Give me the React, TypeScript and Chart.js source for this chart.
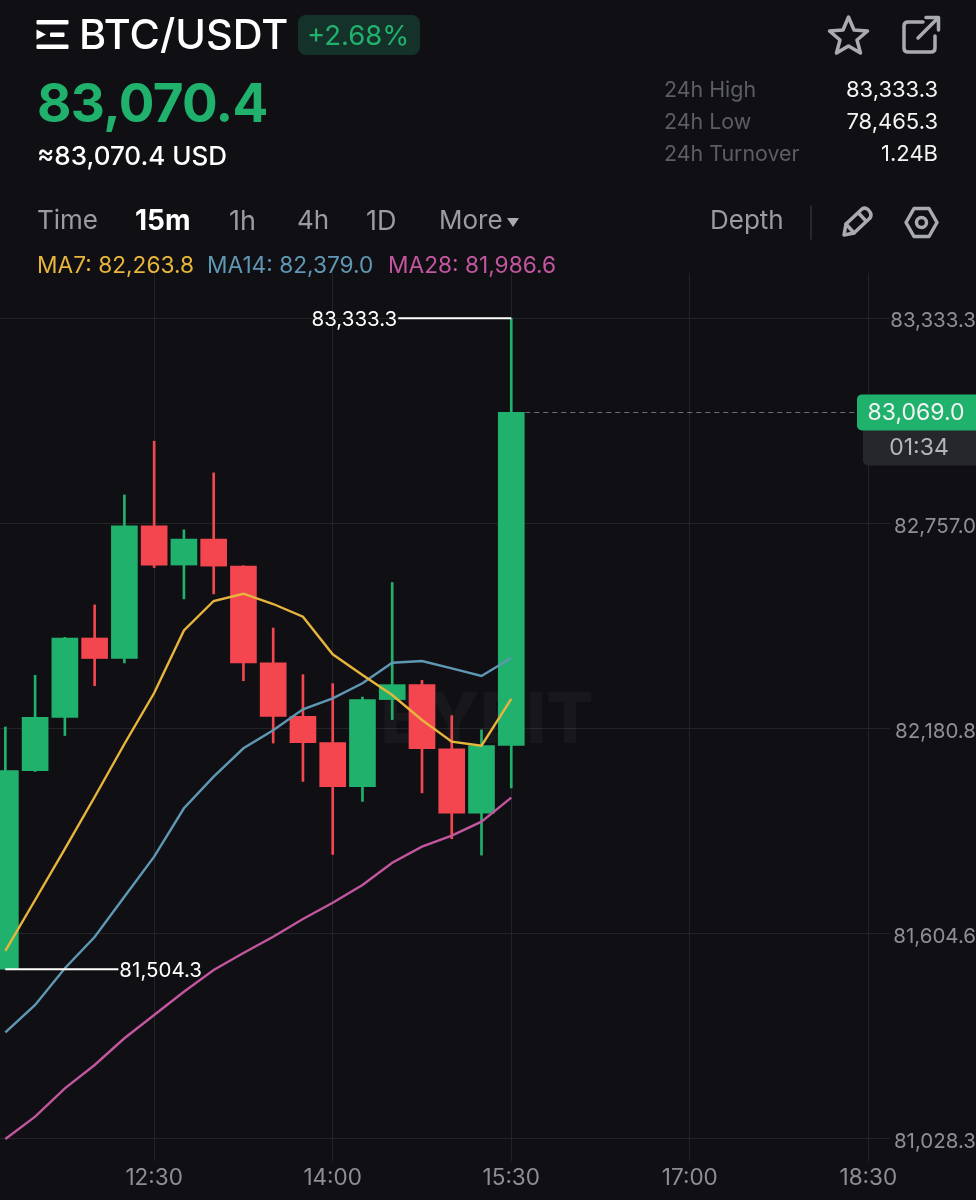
import React, { useRef, useEffect } from "react";
import { Chart, registerables } from "chart.js";

Chart.register(...registerables);

const times = [
	"11:15", "11:30", "11:45", "12:00", "12:15", "12:30", "12:45", "13:00", "13:15",
	"13:30", "13:45", "14:00", "14:15", "14:30", "14:45", "15:00", "15:15", "15:30",
];
const opens = [
	81504.3, 82062.5, 82212, 82435, 82377.5, 82750, 82640, 82713, 82637,
	82365, 82215, 82141, 82017, 82262, 82304, 82124, 81943, 82133,
];
const closes = [
	82062.5, 82212, 82435, 82377.5, 82750, 82640, 82713, 82637, 82365,
	82215, 82141, 82017, 82262, 82304, 82124, 81943, 82133, 83069,
];
const highs = [
	82185, 82330, 82437, 82528, 82837, 82988, 82739, 82899, 82638,
	82463, 82332, 82307, 82269, 82591, 82316, 82217, 82177, 83333.3,
];
const lows = [
	81504.3, 82060, 82161, 82301, 82365, 82633, 82545, 82559, 82315,
	82140, 82032, 81827, 81976, 82206, 82000, 81871, 81825, 82014,
];
const ma7 = [
	81555.7, 81698.9, 81842.3, 81988.3, 82137.3, 82280.5, 82456.1, 82539, 82559.5,
	82530.6, 82494.9, 82389.3, 82331.1, 82274.9, 82204.7, 82143.7, 82132.5, 82263.8,
];
const ma14 = [
	81327.2, 81403.9, 81507.1, 81595, 81708.2, 81820.6, 81956.6, 82045.4, 82125.2,
	82175.7, 82234.7, 82265.7, 82307.8, 82365.7, 82370.4, 82349.9, 82328.3, 82379,
];
const ma28 = [
	81027.5, 81090.1, 81169.9, 81235.4, 81310.4, 81375.8, 81441.3, 81502.3, 81550,
	81595.8, 81645.6, 81691.3, 81741.1, 81803.7, 81848.7, 81879.6, 81918.9, 81986.6,
];
const priceTicks = [83333.3, 82757.0, 82180.8, 81604.6, 81028.3];
const timeTicks = ["12:30", "14:00", "15:30", "17:00", "18:30"];
const highMark = 83333.3;
const lowMark = 81504.3;
const lastPrice = 83069.0;
const countdown = "01:34";

const UP = "#20b26c";
const DOWN = "#f4464f";
const BG = "#101014";
const GRID = "#232428";
const FONT = "Inter, sans-serif";

const toMinutes = (t: string) => {
	const [h, m] = t.split(":").map(Number);
	return h * 60 + m;
};
const toTime = (v: number) =>
	`${Math.floor(v / 60)}:${String(v % 60).padStart(2, "0")}`;
const fmt = (v: number) =>
	v.toLocaleString("en-US", { minimumFractionDigits: 1, maximumFractionDigits: 1 });

// watermark sits behind the candles
const watermark = {
	id: "watermark",
	beforeDatasetsDraw(chart: any) {
		const { ctx } = chart;
		ctx.save();
		ctx.font = `800 70px ${FONT}`;
		ctx.fillStyle = "rgba(255,255,255,0.035)";
		ctx.textAlign = "center";
		ctx.textBaseline = "middle";
		ctx.fillText("BYBIT", 487, 722);
		ctx.restore();
	},
};

// high / low markers and the last price tag
const markers = {
	id: "markers",
	afterDatasetsDraw(chart: any) {
		const { ctx, scales } = chart;
		const xs = scales.x;
		const ys = scales.y;
		const lastX = xs.getPixelForValue(toMinutes(times[times.length - 1]));
		const firstX = xs.getPixelForValue(toMinutes(times[0]));
		const yHigh = ys.getPixelForValue(highMark);
		const yLow = ys.getPixelForValue(lowMark);
		const yLast = ys.getPixelForValue(lastPrice);

		ctx.save();
		ctx.strokeStyle = "#ffffff";
		ctx.lineWidth = 2;
		ctx.beginPath();
		ctx.moveTo(lastX, yHigh);
		ctx.lineTo(lastX - 113, yHigh);
		ctx.moveTo(firstX, yLow);
		ctx.lineTo(firstX + 113, yLow);
		ctx.stroke();

		ctx.fillStyle = "#ffffff";
		ctx.font = `400 20.5px ${FONT}`;
		ctx.textBaseline = "middle";
		ctx.textAlign = "right";
		ctx.fillText(fmt(highMark), lastX - 114, yHigh + 2);
		ctx.textAlign = "left";
		ctx.fillText(fmt(lowMark), firstX + 114, yLow + 2);

		ctx.strokeStyle = "#6c6e73";
		ctx.lineWidth = 1;
		ctx.setLineDash([5, 4]);
		ctx.beginPath();
		ctx.moveTo(lastX + 14, Math.round(yLast) + 0.5);
		ctx.lineTo(857, Math.round(yLast) + 0.5);
		ctx.stroke();
		ctx.setLineDash([]);

		ctx.fillStyle = "#25272c";
		ctx.beginPath();
		ctx.roundRect(863, yLast + 10, 120, 43, 5);
		ctx.fill();
		ctx.fillStyle = UP;
		ctx.beginPath();
		ctx.roundRect(857, yLast - 18, 125, 36, 5);
		ctx.fill();

		ctx.fillStyle = "#f2f4f3";
		ctx.font = `400 23px ${FONT}`;
		ctx.textAlign = "center";
		ctx.fillText(fmt(lastPrice), 916, yLast + 1);
		ctx.fillStyle = "#b4b6ba";
		ctx.fillText(countdown, 919, yLast + 36);
		ctx.restore();
	},
};

const Candles: React.FC = () => {
	const chartRef = useRef<HTMLCanvasElement | null>(null);
	const chartInstance = useRef<Chart | null>(null);

	useEffect(() => {
		if (!chartRef.current) return;
		const ctx = chartRef.current.getContext("2d");
		const xs = times.map(toMinutes);
		const colors = closes.map((c, i) => (c >= opens[i] ? UP : DOWN));
		const line = (label: string, values: number[], color: string) => ({
			type: "line",
			label,
			data: values.map((y, i) => ({ x: xs[i], y })),
			borderColor: color,
			borderWidth: 2.4,
			pointRadius: 0,
			tension: 0,
			order: 0,
		});

		chartInstance.current = new Chart(ctx, {
			type: "bar",
			data: {
				datasets: [
					line("MA7", ma7, "#e8b53c"),
					line("MA14", ma14, "#5f98b4"),
					line("MA28", ma28, "#c2569f"),
					{
						label: "Body",
						data: opens.map((o, i) => ({
							x: xs[i],
							y: [Math.min(o, closes[i]), Math.max(o, closes[i])],
						})),
						backgroundColor: colors,
						barThickness: 26,
						grouped: false,
						order: 1,
					},
					{
						label: "Wick",
						data: highs.map((h, i) => ({ x: xs[i], y: [lows[i], h] })),
						backgroundColor: colors,
						barThickness: 2,
						grouped: false,
						order: 2,
					},
				],
			} as any,
			options: {
				responsive: false,
				animation: false,
				layout: { padding: { top: 273, left: 0, right: 0, bottom: 0 } },
				plugins: {
					legend: { display: false },
					tooltip: { enabled: false },
				},
				events: [],
				scales: {
					x: {
						type: "linear",
						offset: false,
						min: 672.3,
						max: 1120.9,
						grid: { offset: false, color: GRID, drawTicks: false },
						border: { display: false },
						afterBuildTicks: (scale: any) => {
							scale.ticks = timeTicks.map((t) => ({ value: toMinutes(t) }));
						},
						afterFit: (scale: any) => {
							scale.height = 39;
						},
						ticks: {
							autoSkip: false,
							maxRotation: 0,
							padding: 4,
							color: "#8d8f93",
							font: { family: "Inter", size: 22.5 },
							callback: (v: any) => toTime(Number(v)),
						},
					},
					y: {
						type: "linear",
						position: "right",
						min: 80965.6,
						max: 83460.6,
						grid: { color: GRID, drawTicks: false },
						border: { display: false },
						afterBuildTicks: (scale: any) => {
							scale.ticks = priceTicks.map((value) => ({ value }));
						},
						afterFit: (scale: any) => {
							scale.width = 86;
						},
						ticks: {
							autoSkip: false,
							padding: 0,
							crossAlign: "far",
							labelOffset: 3,
							color: "#8d8f93",
							font: { family: "Inter", size: 20.5 },
							callback: (v: any) => fmt(Number(v)),
						},
					},
				},
			} as any,
			plugins: [watermark, markers],
		} as any);

		return () => {
			if (chartInstance.current) {
				chartInstance.current.destroy();
				chartInstance.current = null;
			}
		};
	}, []);

	return (
		<canvas
			ref={chartRef}
			width="976"
			height="1200"
			style={{ position: "absolute", left: 0, top: 0, width: 976, height: 1200 }}
		></canvas>
	);
};

const Text: React.FC<any> = ({ x, right, cy, size, color, weight, spacing, children }) => (
	<span
		style={{
			position: "absolute",
			left: x,
			right: right,
			top: cy,
			transform: "translateY(-50%)",
			fontFamily: FONT,
			fontSize: size,
			lineHeight: 1,
			fontWeight: weight || 400,
			letterSpacing: spacing || 0,
			color: color,
			whiteSpace: "nowrap",
		}}
	>
		{children}
	</span>
);

const Icons: React.FC = () => (
	<svg
		width="976"
		height="290"
		style={{ position: "absolute", left: 0, top: 0 }}
		fill="none"
		stroke="#a9abaf"
		strokeWidth="3.5"
		strokeLinejoin="round"
		strokeLinecap="round"
	>
		{/* menu logo */}
		<g fill="#ffffff" stroke="none">
			<rect x="36.5" y="20" width="32" height="4.5" rx="1" />
			<rect x="36.5" y="44.5" width="32" height="4.5" rx="1" />
			<rect x="50" y="32.5" width="14.5" height="4.5" rx="1" />
			<path d="M36.5 29.5 L46 34.5 L36.5 39.5 Z" />
		</g>
		{/* star */}
		<path d="M848.5 17 L854 30 L867.5 31 L857 40 L860.5 53 L848.5 46 L836.5 53 L840 40 L829.5 31 L843 30 Z" />
		{/* share */}
		<path d="M923 22 H908 Q904 22 904 26 V48 Q904 52 908 52 H931 Q935 52 935 48 V36" />
		<path d="M918 38 L938 18 M926 17.5 H938.5 V30" />
		{/* divider */}
		<line x1="811" y1="206" x2="811" y2="239" stroke="#303236" strokeWidth="1.5" />
		{/* pencil */}
		<path d="M844 235 L846 224 L862 209 Q865 207 868 209.5 L870 212 Q872 215 870 218 L854 233 Z" />
		<path d="M858.5 213 L866 221 M846 224 L854 233" />
		{/* settings */}
		<path d="M914 208.5 H929 L937 222.5 L929 236.5 H914 L906 222.5 Z" />
		<circle cx="921.5" cy="222.5" r="5" />
		{/* more arrow */}
		<path d="M507 218 H519 L513 227 Z" fill="#a9abaf" stroke="none" />
	</svg>
);

const App: React.FC = () => (
	<div
		style={{
			position: "absolute",
			left: 0,
			top: 0,
			width: 976,
			height: 1200,
			background: BG,
			overflow: "hidden",
		}}
	>
		<Candles />
		<Icons />
		<Text x={79} cy={35} size={41.4} color="#ffffff" weight={500}>BTC/USDT</Text>
		<div
			style={{
				position: "absolute",
				left: 298,
				top: 15,
				width: 122,
				height: 40,
				borderRadius: 8,
				background: "#14322a",
			}}
		></div>
		<Text x={307} cy={36} size={27.5} color={UP}>+2.68%</Text>
		<Text x={37} cy={103} size={53} color={UP} weight={700} spacing={-0.7}>83,070.4</Text>
		<Text x={37} cy={156} size={26} color="#ffffff" weight={500}>≈83,070.4 USD</Text>

		<Text x={664} cy={90} size={21.4} color="#5c5e63">24h High</Text>
		<Text x={664} cy={122} size={21.4} color="#5c5e63">24h Low</Text>
		<Text x={664} cy={154} size={21.4} color="#5c5e63">24h Turnover</Text>
		<Text right={38} cy={89} size={22} color="#f2f3f4">83,333.3</Text>
		<Text right={38} cy={121} size={22} color="#f2f3f4">78,465.3</Text>
		<Text right={38} cy={153} size={22} color="#f2f3f4">1.24B</Text>

		<Text x={37} cy={220} size={26} color="#9a9ca0">Time</Text>
		<Text x={135} cy={220} size={28} color="#ffffff" weight={700}>15m</Text>
		<Text x={229} cy={220} size={27} color="#9a9ca0">1h</Text>
		<Text x={297} cy={220} size={26} color="#9a9ca0">4h</Text>
		<Text x={366} cy={220} size={27} color="#9a9ca0">1D</Text>
		<Text x={439} cy={220} size={26} color="#9a9ca0">More</Text>
		<Text x={710} cy={220} size={26} color="#9a9ca0">Depth</Text>

		<Text x={37} cy={265} size={22.7} color="#e8b53c">MA7: 82,263.8</Text>
		<Text x={207} cy={265} size={22.7} color="#5f98b4">MA14: 82,379.0</Text>
		<Text x={388} cy={265} size={22.7} color="#c2569f">MA28: 81,986.6</Text>
	</div>
);

export default App;
